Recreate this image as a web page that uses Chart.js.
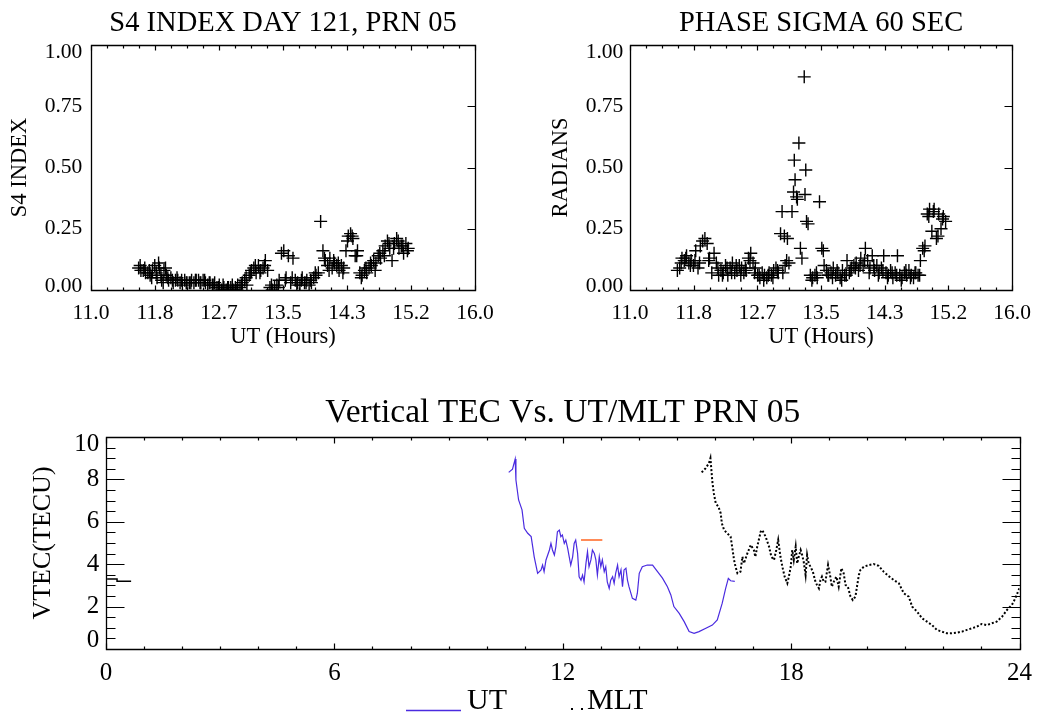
<!DOCTYPE html>
<html>
<head>
<meta charset="utf-8">
<script src="https://cdn.jsdelivr.net/npm/chart.js@4.4.1/dist/chart.umd.min.js"></script>
<style>
html,body{margin:0;padding:0;background:#fff;width:1041px;height:716px;overflow:hidden;}
.box{position:absolute;}
canvas{display:block;}
</style>
</head>
<body>
<div class="box" style="left:0;top:0;width:520px;height:360px"><canvas id="c1" width="520" height="360"></canvas></div>
<div class="box" style="left:520px;top:0;width:521px;height:360px"><canvas id="c2" width="521" height="360"></canvas></div>
<div class="box" style="left:0;top:360px;width:1041px;height:356px"><canvas id="c3" width="1041" height="356"></canvas></div>
<script>
// ---------- DATA ----------
const topXLabels = ['11.0','11.8','12.7','13.5','14.3','15.2','16.0'];
const topYLabels = ['0.00','0.25','0.50','0.75','1.00'];
const vtecXLabels = ['0','6','12','18','24'];
const vtecYLabels = ['0','2','4','6','8','10'];

const s4Times = [11.62,11.65,11.68,11.71,11.74,11.77,11.80,11.83,11.86,11.89,11.92,11.95,11.98,12.01,12.04,12.07,12.10,12.13,12.16,12.19,12.22,12.25,12.28,12.31,12.34,12.37,12.40,12.43,12.46,12.49,12.52,12.55,12.58,12.61,12.64,12.67,12.70,12.73,12.76,12.79,12.82,12.85,12.88,12.91,12.94,12.97,13.00,13.03,13.06,13.09,13.12,13.15,13.18,13.21,13.24,13.27,13.30,13.33,13.36,13.39,13.42,13.45,13.48,13.51,13.54,13.57,13.60,13.63,13.66,13.69,13.72,13.75,13.78,13.81,13.84,13.87,13.90,13.93,13.96,13.99,14.02,14.05,14.08,14.11,14.14,14.17,14.20,14.23,14.26,14.29,14.32,14.35,14.38,14.41,14.44,14.47,14.50,14.53,14.56,14.59,14.62,14.65,14.68,14.71,14.74,14.77,14.80,14.83,14.86,14.89,14.92,14.95,14.98,15.01,15.04,15.07,15.10,15.13,
  11.64,11.70,11.76,11.79,11.85,11.88,11.91,11.94,11.97,12.00,12.06,12.12,12.18,12.24,12.30,12.36,12.42,12.48,12.54,12.60,12.66,12.72,12.78,12.84,12.90,12.96,13.02,13.08,13.14,13.20,13.26,13.35,13.44,13.53,13.62,13.68,13.74,13.80,13.86,13.92,14.04,14.10,14.16,14.22,14.28,14.34,14.40,14.46,14.52,14.58,14.64,14.70,14.76,14.82,14.88,14.94,15.00,15.06,15.12];
const s4Values = [0.09,0.08,0.08,0.07,0.07,0.06,0.08,
  0.10,0.05,0.09,0.04,0.08,0.06,
  0.04,0.05,0.03,0.04,0.04,0.03,0.02,0.04,0.03,0.03,
  0.04,0.03,0.04,0.04,0.03,0.04,0.03,0.02,0.03,0.02,0.03,
  0.01,0.02,0.00,0.01,0.00,0.01,0.01,0.00,0.01,0.02,0.01,
  0.03,0.04,0.02,0.06,0.08,
  0.09,0.07,0.10,0.08,0.09,0.12,
  0.08,0.01,0.00,0.01,0.02,0.04,
  0.15,0.16,0.05,0.14,0.03,0.13,
  0.04,0.03,0.02,0.05,0.03,0.04,0.02,0.03,0.05,0.06,
  0.07,0.28,0.16,0.12,0.10,0.13,0.09,0.11,
  0.10,0.08,0.10,0.09,0.16,
  0.22,0.23,0.21,0.14,0.16,
  0.07,0.06,0.08,0.07,0.09,
  0.10,0.12,0.11,0.14,0.13,
  0.16,0.18,0.20,0.17,0.12,
  0.19,0.21,0.17,0.18,0.15,0.19,0.17,
  0.10,0.09,0.08,0.05,0.07,0.11,0.06,0.03,0.09,0.05,0.04,0.05,0.04,0.03,0.03,0.04,0.03,0.04,0.03,0.02,0.01,0.02,0.01,0.02,0.00,0.02,0.05,0.07,0.10,0.07,0.10,0.02,0.01,0.04,0.05,0.02,0.04,0.03,0.04,0.07,0.13,0.08,0.12,0.11,0.07,0.20,0.22,0.14,0.05,0.09,0.11,0.08,0.15,0.14,0.19,0.17,0.20,0.18,0.16];

const phaseTimes = [11.62,11.65,11.68,11.71,11.74,11.77,11.80,11.83,11.86,11.89,11.92,11.95,11.98,12.01,12.04,12.07,12.10,12.13,12.16,12.19,12.22,12.25,12.28,12.31,12.34,12.37,12.40,12.43,12.46,12.49,12.52,12.55,12.58,12.61,12.64,12.67,12.70,12.73,12.76,12.79,12.82,12.85,12.88,12.91,12.94,
  12.97,12.99,13.00,13.02,13.03,13.05,13.06,13.08,13.12,13.14,13.15,13.16,13.18,13.19,13.21,13.23,13.25,13.28,13.29,13.30,13.31,13.33,13.36,13.39,13.42,13.45,
  13.48,13.51,13.54,13.57,13.60,13.63,13.66,13.69,13.72,13.75,13.78,13.81,13.84,13.87,13.90,13.93,13.96,13.99,14.02,14.05,14.08,14.11,14.14,14.17,14.20,14.23,14.26,14.29,14.32,14.35,14.38,14.41,14.44,14.47,14.50,14.53,14.56,14.59,14.62,14.65,14.68,14.71,14.74,14.77,14.80,14.83,14.86,14.89,14.92,14.95,14.98,15.01,15.04,15.07,15.10,15.13,
  11.67,11.73,11.79,11.85,11.91,12.03,12.15,12.21,12.27,12.33,12.39,12.45,12.51,12.57,12.63,12.69,12.75,12.81,12.87,12.93,13.38,13.44,13.53,13.59,13.65,13.71,13.77,13.83,13.89,13.95,14.01,14.07,14.13,14.19,14.25,14.31,14.37,14.43,14.49,14.55,14.61,14.67,14.73,14.79,14.85,14.91,14.97,15.03,15.09];
const phaseValues = [0.08,0.09,0.13,0.12,0.14,0.11,0.12,
  0.10,0.16,0.09,0.18,0.20,0.21,
  0.19,0.13,0.07,0.15,0.11,0.06,0.08,0.07,0.10,0.06,
  0.09,0.11,0.07,0.08,0.10,0.09,0.07,0.08,0.13,0.15,0.11,
  0.09,0.06,0.05,0.07,0.06,0.05,0.07,0.06,0.08,0.09,0.07,
  0.23,0.32,0.07,0.22,0.10,0.12,0.21,0.11,0.32,0.40,0.53,0.45,0.38,0.37,0.60,0.17,0.13,0.87,0.39,0.49,0.28,0.27,0.06,0.05,0.06,0.05,
  0.36,0.17,0.10,0.08,0.06,0.07,
  0.09,0.06,0.07,0.05,0.08,0.06,0.12,0.07,0.09,0.10,
  0.11,0.08,0.13,0.10,0.17,0.12,0.09,0.14,
  0.08,0.10,0.07,0.09,0.14,
  0.07,0.06,0.08,0.05,0.07,
  0.14,0.06,0.05,0.07,0.06,
  0.08,0.06,0.05,0.07,0.06,
  0.12,0.17,0.18,0.31,0.33,
  0.24,0.33,0.21,0.31,0.25,0.30,0.28,
  0.11,0.13,0.10,0.12,0.11,0.12,0.09,0.06,0.09,0.07,0.10,0.06,0.09,0.12,0.07,0.06,0.04,0.06,0.05,0.08,0.04,0.07,0.16,0.06,0.05,0.08,0.04,0.06,0.08,0.09,0.10,0.12,0.07,0.10,0.06,0.08,0.05,0.07,0.06,0.04,0.08,0.05,0.07,0.06,0.16,0.30,0.32,0.22,0.29];

const utTimes = [10.58,10.68,10.75,10.77,10.84,10.93,10.99,11.08,11.17,11.21,11.25,11.34,11.43,11.47,11.51,11.56,11.65,11.69,11.73,11.78,11.82,11.86,11.91,11.95,11.99,12.04,12.08,12.13,12.17,12.21,12.26,12.30,12.34,12.39,12.43,12.48,12.52,12.56,12.61,12.65,12.69,12.74,12.78,12.83,12.87,12.91,12.96,13.00,13.04,13.09,13.13,13.17,13.22,13.26,13.31,13.35,13.39,13.44,13.48,13.53,13.57,13.61,13.66,13.70,13.74,13.83,13.92,13.96,14.01,14.09,14.22,14.36,14.49,14.62,14.75,14.84,14.92,15.06,15.19,15.32,15.45,15.58,15.76,15.93,16.06,16.19,16.28,16.35,16.41,16.52];
const utVtec = [8.33,8.48,8.96,7.97,7.03,6.56,5.69,5.46,5.30,4.83,4.35,3.57,3.73,3.96,3.65,4.20,4.67,4.98,4.67,4.43,4.83,5.53,5.61,5.30,5.38,4.98,5.14,4.75,4.35,3.96,4.35,4.98,5.14,4.51,3.41,3.25,3.49,3.17,4.04,4.59,3.88,4.20,4.67,4.51,4.20,3.49,4.35,3.88,4.20,3.65,3.88,3.17,2.86,3.25,3.41,3.10,3.57,3.96,3.41,3.73,2.94,3.73,3.81,3.25,2.94,2.39,2.31,2.63,3.57,3.88,3.96,3.96,3.65,3.34,2.94,2.55,2.00,1.68,1.29,0.82,0.74,0.82,0.98,1.13,1.37,2.16,2.86,3.33,3.22,3.19];

const markTimes = [12.48,13.04];
const markVtec = [5.14,5.14];

const mltTimes = [15.65,15.75,15.84,15.88,15.93,15.97,16.02,16.09,16.15,16.18,16.24,16.32,16.41,16.45,16.50,16.54,16.59,16.67,16.72,16.76,16.85,16.94,17.02,17.06,17.11,17.20,17.24,17.33,17.42,17.48,17.55,17.61,17.66,17.72,17.77,17.83,17.90,17.94,17.99,18.03,18.07,18.12,18.16,18.20,18.25,18.29,18.33,18.38,18.42,18.46,18.51,18.57,18.64,18.68,18.73,18.77,18.81,18.86,18.90,18.97,19.03,19.07,19.14,19.19,19.25,19.32,19.38,19.43,19.49,19.56,19.62,19.69,19.73,19.78,19.82,19.91,20.04,20.17,20.30,20.43,20.56,20.70,20.83,20.96,21.09,21.18,21.31,21.44,21.57,21.70,21.83,21.96,22.09,22.22,22.36,22.49,22.62,22.75,22.88,23.01,23.14,23.27,23.40,23.54,23.67,23.80,23.89,24.00];
const mltVtec = [8.33,8.52,8.76,9.00,7.89,7.34,6.87,6.71,6.40,5.93,5.61,5.46,5.30,4.83,4.20,3.88,3.57,3.65,4.35,4.04,4.51,4.91,4.67,4.35,4.83,5.53,5.61,5.30,4.83,4.35,4.20,4.67,5.14,4.35,3.88,3.41,3.10,3.41,3.88,4.67,4.20,4.83,4.04,4.35,4.67,4.43,4.12,3.49,4.43,4.04,3.88,3.65,3.17,3.02,2.86,3.25,3.41,3.17,3.17,3.96,3.41,2.94,3.25,3.41,2.94,3.81,3.57,3.02,2.94,2.47,2.31,2.47,2.94,3.49,3.73,3.88,3.96,4.01,3.92,3.65,3.44,3.25,3.10,2.63,2.47,2.00,1.76,1.45,1.29,1.13,0.90,0.82,0.74,0.74,0.77,0.82,0.90,0.98,1.05,1.18,1.13,1.21,1.29,1.52,1.84,2.08,2.39,2.88];

const mltWrapTimes = [0.03,0.29,0.29,0.66];
const mltWrapVtec = [3.30,3.30,3.20,3.20];

// ---------- RENDERING ----------
const FONT = 'Liberation Serif';
Chart.defaults.font.family = FONT;
Chart.defaults.color = '#000';

const pts = (xs, ys) => xs.map((x, i) => ({x: x, y: ys[i]}));

function evenTicks(labels) {
  return function (scale) {
    const mn = scale.min, mx = scale.max, n = labels.length - 1;
    scale.ticks = labels.map((l, i) => ({value: mn + (mx - mn) * i / n}));
  };
}

// y labels: end labels nudged inside the frame (IDL look) via two-line labels
function yLabel(labels) {
  return (v, i) => {
    if (i === 0) return [labels[i], ''];
    if (i === labels.length - 1) return ['', labels[i]];
    return labels[i];
  };
}
function yFont(size, n, lowShift, highShift) {
  return ctx => {
    const f = {family: FONT, size: size};
    if (ctx.index === 0) f.lineHeight = (2 * lowShift) + 'px';
    else if (ctx.index === n - 1) f.lineHeight = (2 * highShift) + 'px';
    return f;
  };
}

// IDL-style box with inward major/minor tick marks, positioned through the scales
const idlFrame = {
  id: 'idlFrame',
  afterDraw(chart, args, o) {
    const {ctx, chartArea: a, scales} = chart;
    const xs = scales.x, ys = scales.y;
    const L = Math.round(a.left) + 0.5, R = Math.round(a.right) + 0.5;
    const T = Math.round(a.top) + 0.5, B = Math.round(a.bottom) + 0.5;
    ctx.save();
    ctx.strokeStyle = o.color;
    ctx.lineWidth = o.lineWidth;
    ctx.beginPath();
    ctx.rect(L, T, R - L, B - T);
    ctx.stroke();
    const sub = (arr, n) => {
      const out = [];
      for (let i = 0; i < arr.length - 1; i++)
        for (let k = 1; k < n; k++) out.push(arr[i] + (arr[i + 1] - arr[i]) * k / n);
      return out;
    };
    const xMaj = xs.ticks.map(t => t.value), yMaj = ys.ticks.map(t => t.value);
    ctx.lineWidth = o.tickWidth;
    ctx.beginPath();
    const xt = (vals, len) => vals.forEach(v => {
      const p = Math.round(xs.getPixelForValue(v)) + 0.5;
      ctx.moveTo(p, B); ctx.lineTo(p, B - len);
      ctx.moveTo(p, T); ctx.lineTo(p, T + len);
    });
    const yt = (vals, len) => vals.forEach(v => {
      const p = Math.round(ys.getPixelForValue(v)) + 0.5;
      if (o.yLeft) { ctx.moveTo(L, p); ctx.lineTo(L + len, p); }
      if (o.yRight) { ctx.moveTo(R, p); ctx.lineTo(R - len, p); }
    });
    xt(xMaj, o.xMajorLen);
    xt(sub(xMaj, o.xMinor), o.xMinorLen);
    yt(yMaj, o.yMajorLen);
    if (o.yMinor > 1) yt(sub(yMaj, o.yMinor), o.yMinorLen);
    ctx.stroke();
    ctx.restore();
  }
};

function topChart(id, times, values, cfg) {
  return new Chart(document.getElementById(id), {
    type: 'scatter',
    data: {datasets: [{
      data: pts(times, values),
      pointStyle: 'cross', pointRadius: 6.5, pointHoverRadius: 6.5,
      pointBorderWidth: 1.4, borderColor: '#000', backgroundColor: '#000'
    }]},
    options: {
      responsive: false, animation: false, events: [],
      layout: {padding: {left: 0, right: cfg.padRight, top: 0, bottom: 0}},
      plugins: {
        legend: {display: false}, tooltip: {enabled: false},
        title: {display: true, fullSize: false, text: cfg.title, color: '#000',
          font: {family: FONT, size: 28.5, weight: 'normal'}, padding: {top: 6.9, bottom: 3.9}},
        idlFrame: {color: '#000', lineWidth: 1.3, tickWidth: 1.2, xMinor: 4, xMajorLen: 5, xMinorLen: 3,
          yMinor: 1, yMajorLen: 8, yMinorLen: 4, yLeft: false, yRight: true}
      },
      scales: {
        x: {type: 'linear', min: 11, max: 16,
          afterBuildTicks: evenTicks(topXLabels),
          afterFit: s => { s.height = 70; },
          grid: {display: false, drawTicks: false}, border: {display: false},
          ticks: {color: '#000', font: {family: FONT, size: 21.5}, padding: 10.1, maxRotation: 0, autoSkip: false,
            callback: (v, i) => topXLabels[i]},
          title: {display: true, text: 'UT (Hours)', color: '#000', font: {family: FONT, size: 22.5}, padding: {top: 0, bottom: 9.5}}
        },
        y: {type: 'linear', min: 0, max: 1,
          afterBuildTicks: evenTicks(topYLabels),
          afterFit: s => { s.width = cfg.yWidth; },
          grid: {display: false, drawTicks: false}, border: {display: false},
          ticks: {color: '#000', font: yFont(21.5, topYLabels.length, 4, 7), padding: cfg.yPad, autoSkip: false,
            callback: yLabel(topYLabels)},
          title: {display: true, text: cfg.yTitle, color: '#000', font: {family: FONT, size: 22.5}, padding: {top: cfg.yTitlePad, bottom: 0}}
        }
      }
    },
    plugins: [idlFrame]
  });
}

topChart('c1', s4Times, s4Values, {title: 'S4 INDEX DAY 121, PRN 05', yTitle: 'S4 INDEX',
  padRight: 45, yWidth: 91, yPad: 8.7, yTitlePad: 6.5});
topChart('c2', phaseTimes, phaseValues, {title: 'PHASE SIGMA 60 SEC', yTitle: 'RADIANS',
  padRight: 27, yWidth: 110, yPad: 6.7, yTitlePad: 27.5});

// legend drawn under the VTEC plot, IDL style
const vtecLegend = {
  id: 'vtecLegend',
  afterDraw(chart, args, o) {
    const ctx = chart.ctx;
    const ds = chart.data.datasets;
    ctx.save();
    ctx.font = o.size + 'px ' + FONT;
    ctx.fillStyle = '#000';
    ctx.textBaseline = 'alphabetic';
    ctx.strokeStyle = ds[0].borderColor;
    ctx.lineWidth = 1.3;
    ctx.beginPath(); ctx.moveTo(o.utLine[0], o.y + 1.5); ctx.lineTo(o.utLine[1], o.y + 1.5); ctx.stroke();
    ctx.fillText(ds[0].label, o.utText, o.y);
    o.mltDots.forEach(x => ctx.fillRect(x, o.y - 1, 2, 2));
    ctx.fillText(ds[2].label, o.mltText, o.y);
    ctx.restore();
  }
};

new Chart(document.getElementById('c3'), {
  type: 'scatter',
  data: {datasets: [
    {label: 'UT', data: pts(utTimes, utVtec), showLine: true, borderColor: '#4a2be0', borderWidth: 1.2,
      pointRadius: 0, pointHoverRadius: 0, tension: 0},
    {label: 'UT mark', data: pts(markTimes, markVtec), showLine: true, borderColor: '#ff6420', borderWidth: 1.5,
      pointRadius: 0, pointHoverRadius: 0},
    {label: 'MLT', data: pts(mltTimes, mltVtec), showLine: true, borderColor: '#000', borderWidth: 2,
      borderDash: [2, 2], pointRadius: 0, pointHoverRadius: 0},
    {label: 'MLT wrap', data: pts(mltWrapTimes, mltWrapVtec), showLine: true, borderColor: '#000', borderWidth: 1.5,
      pointRadius: 0, pointHoverRadius: 0}
  ]},
  options: {
    responsive: false, animation: false, events: [],
    layout: {padding: {left: 0, right: 19, top: 0, bottom: 0}},
    plugins: {
      legend: {display: false}, tooltip: {enabled: false},
      title: {display: true, fullSize: false, text: 'Vertical TEC Vs. UT/MLT PRN 05', color: '#000',
        font: {family: FONT, size: 33.5, weight: 'normal'}, padding: {top: 33.4, bottom: 3.4}},
      idlFrame: {color: '#000', lineWidth: 1.3, tickWidth: 1.2, xMinor: 6, xMajorLen: 6, xMinorLen: 3,
        yMinor: 4, yMajorLen: 18, yMinorLen: 9, yLeft: true, yRight: true},
      vtecLegend: {size: 30, y: 349, utLine: [406, 461], utText: 467, mltDots: [571, 581], mltText: 587}
    },
    scales: {
      x: {type: 'linear', min: 0, max: 24,
        afterBuildTicks: evenTicks(vtecXLabels),
        afterFit: s => { s.height = 67; },
        grid: {display: false, drawTicks: false}, border: {display: false},
        ticks: {color: '#000', font: {family: FONT, size: 25}, padding: 9, maxRotation: 0, autoSkip: false,
          callback: (v, i) => vtecXLabels[i]}
      },
      y: {type: 'linear', min: 0, max: 10,
        afterBuildTicks: evenTicks(vtecYLabels),
        afterFit: s => { s.width = 106; },
        grid: {display: false, drawTicks: false}, border: {display: false},
        ticks: {color: '#000', font: yFont(25, vtecYLabels.length, 9, 7), padding: 6.7, autoSkip: false,
          callback: yLabel(vtecYLabels)},
        title: {display: true, text: 'VTEC(TECU)', color: '#000', font: {family: FONT, size: 26}, padding: {top: 27.4, bottom: 0}}
      }
    }
  },
  plugins: [idlFrame, vtecLegend]
});
</script>
</body>
</html>
